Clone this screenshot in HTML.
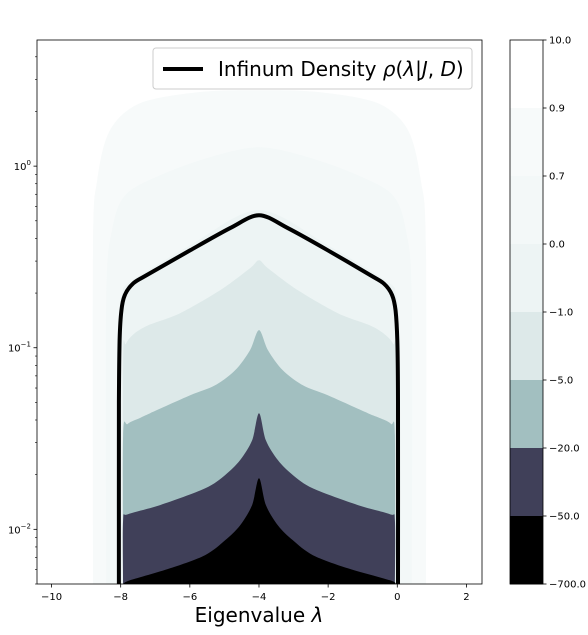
<!DOCTYPE html>
<html><head><meta charset="utf-8"><style>
html,body{margin:0;padding:0;background:#fff;}
svg{display:block;font-family:"DejaVu Sans","Liberation Sans",sans-serif;}
</style></head><body>
<svg id="chart" width="588" height="635" viewBox="0 0 588 635" xmlns="http://www.w3.org/2000/svg">
<defs><clipPath id="plotclip"><rect x="37" y="40" width="445" height="544"/></clipPath></defs>
<rect x="0" y="0" width="588" height="635" fill="#fff"/>
<g id="bands" clip-path="url(#plotclip)"></g>
<g id="curveg" clip-path="url(#plotclip)"></g>
<rect x="37" y="40" width="445" height="544" fill="none" stroke="#000" stroke-width="0.8"/>
<g id="xticks"></g>
<g id="yticks"></g>
<text x="259" y="622" text-anchor="middle" font-size="20">Eigenvalue <tspan font-style="italic">λ</tspan></text>
<g>
<rect x="153" y="48" width="319" height="41" rx="3" fill="#fff" fill-opacity="0.8" stroke="#ccc" stroke-width="1"/>
<line x1="163" y1="69" x2="203" y2="69" stroke="#000" stroke-width="4"/>
<text x="218" y="76" font-size="20">Infinum Density <tspan font-style="italic">ρ</tspan>(<tspan font-style="italic">λ</tspan>|<tspan font-style="italic">J</tspan>, <tspan font-style="italic">D</tspan>)</text>
</g>
<g id="colorbar"></g>
</svg>
<script>
// ---- data ----
const xTicks = [-10, -8, -6, -4, -2, 0, 2];
const yDecades = [-2, -1, 0];
const cbLevels = ["10.0","0.9","0.7","0.0","\u22121.0","\u22125.0","\u221220.0","\u221250.0","\u2212700.0"];
const cbColors = ["#ffffff","#f7fafa","#f3f8f8","#edf4f4","#dde9e9","#a2bfc0","#404059","#000000"];

const band09Lam = [-8.80,-8.80,-8.68,-8.31,-7.44,-5.71,-4,-2.29,-0.56,0.31,0.68,0.83,0.83];
const band09Rho = [0.005,0.344,0.837,1.58,2.22,2.56,2.62,2.56,2.22,1.58,0.837,0.344,0.005];
const band07Lam = [-8.42,-8.42,-8.25,-7.87,-6.86,-5.42,-4,-2.58,-1.14,-0.13,0.25,0.42,0.42];
const band07Rho = [0.005,0.183,0.444,0.692,0.892,1.12,1.27,1.12,0.892,0.692,0.444,0.183,0.005];
const band00Lam = [-8.10,-8.10,-8.06,-7.95,-7.73,-5.99,-4,-2.01,-0.27,-0.05,0.05,0.08,0.08];
const band00Rho = [0.005,0.08,0.15,0.2,0.23,0.367,0.573,0.367,0.23,0.2,0.15,0.08,0.005];
const bandM1Lam = [-7.93,-7.93,-7.85,-7.6,-7.2,-6.28,-5.13,-4.26,-4,-3.74,-2.87,-1.72,-0.8,-0.4,-0.12,-0.04,-0.04];
const bandM1Rho = [0.005,0.085,0.105,0.12,0.133,0.155,0.207,0.274,0.303,0.274,0.207,0.155,0.133,0.12,0.105,0.085,0.005];
const bandM5Lam = [-7.93,-7.93,-7.8,-7.45,-7.15,-5.99,-5.27,-4.69,-4.26,-4,-3.74,-3.31,-2.73,-2.01,-0.85,-0.5,-0.18,-0.07,-0.07];
const bandM5Rho = [0.005,0.033,0.038,0.041,0.0436,0.0547,0.0621,0.0751,0.0969,0.125,0.0969,0.0751,0.0621,0.0547,0.0436,0.041,0.038,0.033,0.005];
const bandM20Lam = [-7.93,-7.93,-7.79,-6.86,-5.56,-4.98,-4.55,-4.20,-4,-3.80,-3.45,-3.02,-2.44,-1.14,-0.21,-0.07,-0.07];
const bandM20Rho = [0.005,0.0112,0.0121,0.0136,0.0168,0.0199,0.024,0.0309,0.0436,0.0309,0.024,0.0199,0.0168,0.0136,0.0121,0.0112,0.005];
const bandM50Lam = [-7.93,-7.73,-6.57,-5.56,-4.98,-4.55,-4.20,-4,-3.80,-3.45,-3.02,-2.44,-1.43,-0.21,-0.04];
const bandM50Rho = [0.005,0.00524,0.0061,0.0072,0.0087,0.0105,0.0136,0.0191,0.0136,0.0105,0.0087,0.0072,0.0061,0.00524,0.005];

const curveLam = [-8.05,-8.05,-8.03,-7.98,-7.88,-7.65,-7.3,-5.99,-4.84,-4,-3.16,-2.01,-0.73,-0.38,-0.15,-0.05,0.0,0.02,0.02];
const curveRho = [0.004,0.05,0.11,0.16,0.195,0.225,0.248,0.344,0.455,0.537,0.455,0.344,0.248,0.225,0.195,0.16,0.11,0.05,0.004];

// ---- axes ----
const NS = "http://www.w3.org/2000/svg";
const X0 = 37, X1 = 482, Y0 = 40, Y1 = 584;
const xMin = -10.42, xMax = 2.45, yLogMin = Math.log10(0.005), yLogMax = Math.log10(4.95);
function sx(v){ return X0 + (v - xMin) / (xMax - xMin) * (X1 - X0); }
function sy(v){ return Y1 - (Math.log10(v) - yLogMin) / (yLogMax - yLogMin) * (Y1 - Y0); }
function mk(tag, attrs, parent){ const e = document.createElementNS(NS, tag); for (const k in attrs) e.setAttribute(k, attrs[k]); parent.appendChild(e); return e; }

const bandsG = document.getElementById('bands');
const bandList = [
  [band09Lam, band09Rho, cbColors[1], 'band-0.9'],
  [band07Lam, band07Rho, cbColors[2], 'band-0.7'],
  [band00Lam, band00Rho, cbColors[3], 'band-0.0'],
  [bandM1Lam, bandM1Rho, cbColors[4], 'band-minus-1'],
  [bandM5Lam, bandM5Rho, cbColors[5], 'band-minus-5'],
  [bandM20Lam, bandM20Rho, cbColors[6], 'band-minus-20'],
  [bandM50Lam, bandM50Rho, cbColors[7], 'band-minus-50']
];
function smoothPath(lx, ly){
  const pts = lx.map((l,i)=>[sx(l), sy(ly[i])]);
  let d = 'M' + pts[0][0].toFixed(1) + ',' + pts[0][1].toFixed(1);
  for (let i = 0; i < pts.length - 1; i++){
    const p0 = pts[Math.max(0,i-1)], p1 = pts[i], p2 = pts[i+1], p3 = pts[Math.min(pts.length-1,i+2)];
    const t = 0.15;
    const c1 = [p1[0] + (p2[0]-p0[0])*t, p1[1] + (p2[1]-p0[1])*t];
    const c2 = [p2[0] - (p3[0]-p1[0])*t, p2[1] - (p3[1]-p1[1])*t];
    d += 'C' + c1[0].toFixed(1)+','+c1[1].toFixed(1)+' '+c2[0].toFixed(1)+','+c2[1].toFixed(1)+' '+p2[0].toFixed(1)+','+p2[1].toFixed(1);
  }
  return d;
}
bandList.forEach(b => {
  const p = mk('path', {d: smoothPath(b[0], b[1]) + 'L' + sx(b[0][b[0].length-1]).toFixed(1) + ',' + (Y1+5) + 'L' + sx(b[0][0]).toFixed(1) + ',' + (Y1+5) + 'Z', fill: b[2]}, bandsG);
  
  
});

const cg = document.getElementById('curveg');
const cp = mk('path', {d: smoothPath(curveLam, curveRho), fill: 'none', stroke: '#000', 'stroke-width': 4, 'stroke-linejoin': 'round'}, cg);



// x ticks
const xg = document.getElementById('xticks');
xTicks.forEach(v => {
  const x = sx(v);
  const l = mk('line', {x1: x, x2: x, y1: Y1, y2: Y1 + 3.5, stroke: '#000', 'stroke-width': 0.8}, xg);
  
  
  const t = mk('text', {x: x, y: Y1 + 16, 'text-anchor': 'middle', 'font-size': 10}, xg);
  t.textContent = (v < 0 ? '\u2212' + Math.abs(v) : String(v));
  
  
});
// y ticks
const yg = document.getElementById('yticks');
for (let d = -3; d <= 1; d++){
  for (let m = 1; m <= 9; m++){
    const v = m * Math.pow(10, d);
    if (v < 0.005 || v > 4.95) continue;
    const y = sy(v);
    const l = mk('line', {x1: X0, x2: X0 - (m === 1 ? 3.5 : 2), y1: y, y2: y, stroke: '#000', 'stroke-width': m === 1 ? 0.8 : 0.6}, yg);
    
    
  }
}
yDecades.forEach(d => {
  const y = sy(Math.pow(10, d));
  const t = mk('text', {x: X0 - 6, y: y + 4, 'text-anchor': 'end', 'font-size': 10}, yg);
  
  
  const a = document.createElementNS(NS, 'tspan'); a.textContent = '10'; t.appendChild(a);
  const b = document.createElementNS(NS, 'tspan'); b.setAttribute('dy', '-5'); b.setAttribute('font-size', '7');
  b.textContent = d < 0 ? '\u2212' + Math.abs(d) : String(d); t.appendChild(b);
});

// colorbar
const cb = document.getElementById('colorbar');
const CX = 510, CW = 33, nb = cbColors.length, bh = (Y1 - Y0) / nb;
cbColors.forEach((c, i) => {
  const r = mk('rect', {x: CX, y: Y0 + i * bh, width: CW, height: bh + 0.5, fill: c}, cb);
  
  
});
mk('rect', {x: CX, y: Y0, width: CW, height: Y1 - Y0, fill: 'none', stroke: '#000', 'stroke-width': 0.8}, cb);
cbLevels.forEach((s, i) => {
  const y = Y0 + i * bh;
  mk('line', {x1: CX + CW, x2: CX + CW + 3.5, y1: y, y2: y, stroke: '#000', 'stroke-width': 0.8}, cb);
  const t = mk('text', {x: CX + CW + 6, y: y + 3.5, 'font-size': 10}, cb);
  t.textContent = s;
  
  
});
</script>
</body></html>
